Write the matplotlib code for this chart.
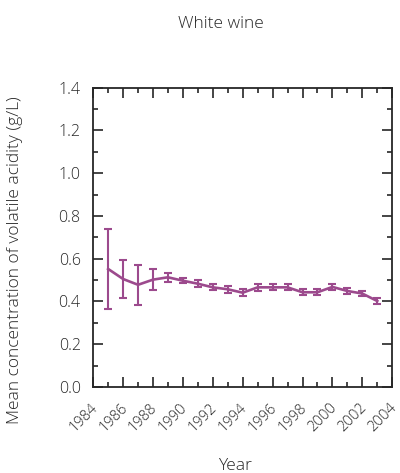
import matplotlib
matplotlib.use("Agg")
import matplotlib.pyplot as plt
from matplotlib.ticker import MultipleLocator
from matplotlib.transforms import ScaledTranslation

# Annual mean volatile acidity of white wine, with error bar half-widths
years = [1985, 1986, 1987, 1988, 1989, 1990, 1991, 1992, 1993, 1994,
         1995, 1996, 1997, 1998, 1999, 2000, 2001, 2002, 2003]
mean_acidity = [0.552, 0.505, 0.478, 0.502, 0.513, 0.497, 0.483, 0.466, 0.457, 0.441,
                0.466, 0.466, 0.466, 0.443, 0.443, 0.468, 0.449, 0.437, 0.402]
error = [0.185, 0.090, 0.093, 0.048, 0.021, 0.013, 0.016, 0.014, 0.016, 0.017,
         0.015, 0.014, 0.014, 0.014, 0.014, 0.013, 0.012, 0.012, 0.016]
year_ticks = list(range(1984, 2005, 2))
y_ticks = [0.0, 0.2, 0.4, 0.6, 0.8, 1.0, 1.2, 1.4]

plt.rcParams['font.family'] = ['Open Sans', 'DejaVu Sans']
plt.rcParams['font.weight'] = 'light'

line_color = '#9c4a8d'
text_color = '#262626'
tick_fs = 11.5
year_fs = 10.5
label_fs = 12.5

fig = plt.figure(figsize=(4.0, 4.73), dpi=100)
ax = fig.add_axes([0.233, 0.1818, 0.7475, 0.633])

ax.errorbar(years, mean_acidity, yerr=error, color=line_color, lw=1.9,
            elinewidth=1.5, capsize=3.2, capthick=1.5)

ax.set_xlim(1984, 2004)
ax.set_ylim(0, 1.4)
ax.set_xticks(year_ticks)
ax.set_xticklabels([str(y) for y in year_ticks], rotation=45, ha='right',
                   va='top', fontsize=year_fs, color=text_color)
ax.xaxis.set_minor_locator(MultipleLocator(1))
ax.set_yticks(y_ticks)
ax.set_yticklabels([f"{v:.1f}" for v in y_ticks], fontsize=tick_fs, color=text_color)
ax.yaxis.set_minor_locator(MultipleLocator(0.1))

ax.tick_params(which='both', direction='in', top=True, right=True,
               color=text_color, width=1.2)
ax.tick_params(which='major', length=7)
ax.tick_params(which='minor', length=3.8)
ax.tick_params(axis='x', which='major', pad=9.5)
ax.tick_params(axis='y', which='major', pad=9)

# nudge the slanted year labels a little to the right of their ticks
shift = ScaledTranslation(5.5 / 72, 0, fig.dpi_scale_trans)
for lbl in ax.get_xticklabels():
    lbl.set_transform(lbl.get_transform() + shift)

for s in ax.spines.values():
    s.set_linewidth(1.3)
    s.set_color(text_color)

fig.text(0.5525, 0.9408, "White wine", ha='center', va='baseline',
         fontsize=label_fs, color=text_color)
fig.text(0.5875, 0.006, "Year", ha='center', va='baseline',
         fontsize=label_fs, color=text_color)
fig.text(0.037, 0.45, "Mean concentration of volatile acidity (g/L)",
         rotation=90, ha='center', va='center', fontsize=label_fs, color=text_color)

fig.savefig("out.png", dpi=100)
